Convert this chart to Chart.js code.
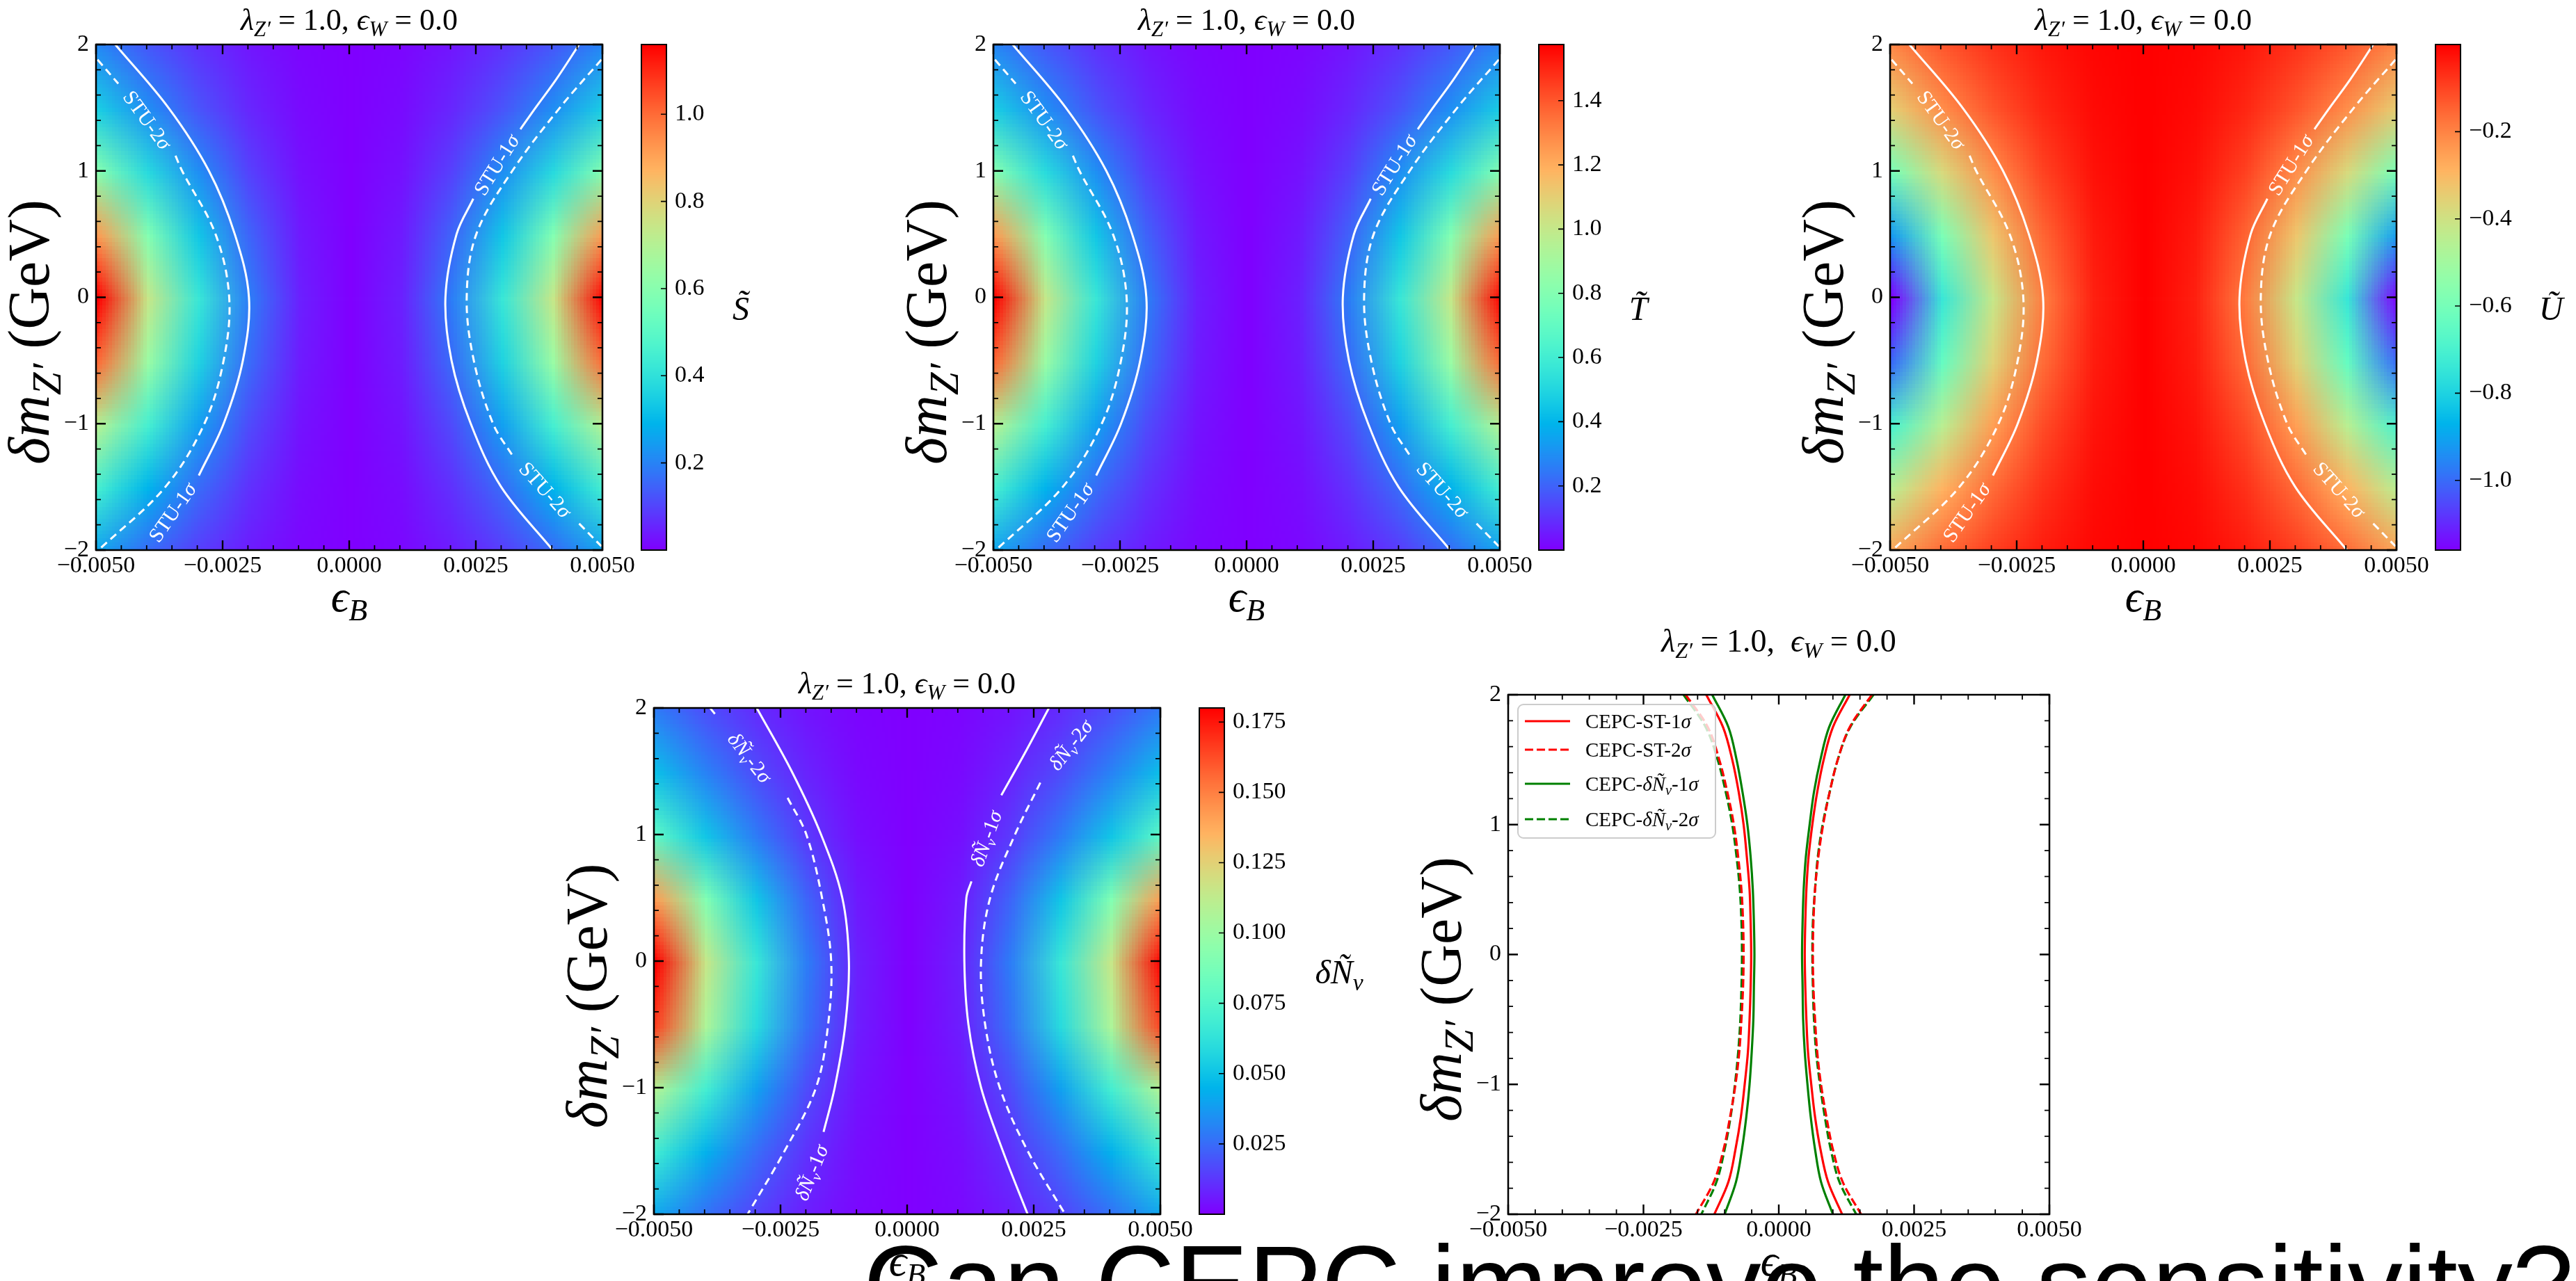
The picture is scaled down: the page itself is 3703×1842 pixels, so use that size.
<!DOCTYPE html>
<html><head><meta charset="utf-8">
<script src="https://cdn.jsdelivr.net/npm/chart.js@4/dist/chart.umd.min.js"></script>
<style>
html,body{margin:0;padding:0;background:#fff;width:3703px;height:1842px;overflow:hidden;position:relative}
canvas{position:absolute}
#caption{position:absolute;left:1241px;top:1767px;font:158px/158px "Liberation Sans",Arial,sans-serif;color:#000;white-space:nowrap;z-index:10}
</style></head><body>
<div id="caption">Can CEPC improve the sensitivity?</div>
<script>
// ---------------- DATA ----------------
const epsGrid = [-0.005,-0.004,-0.003,-0.002,-0.001,0,0.001,0.002,0.003,0.004,0.005];
const dmGrid = [2,1.5,1,0.5,0,-0.5,-1,-1.5,-2];

const sTildeGrid = [
 [0.21,0.13,0.075,0.033,0.008,0,0.008,0.033,0.075,0.13,0.21],
 [0.35,0.22,0.125,0.056,0.014,0,0.014,0.056,0.125,0.22,0.35],
 [0.60,0.38,0.22,0.096,0.024,0,0.024,0.096,0.22,0.38,0.60],
 [0.92,0.59,0.33,0.15,0.037,0,0.037,0.15,0.33,0.59,0.92],
 [1.16,0.74,0.42,0.19,0.046,0,0.046,0.19,0.42,0.74,1.16],
 [1.00,0.64,0.36,0.16,0.040,0,0.040,0.16,0.36,0.64,1.00],
 [0.70,0.45,0.25,0.11,0.028,0,0.028,0.11,0.25,0.45,0.70],
 [0.45,0.29,0.16,0.072,0.018,0,0.018,0.072,0.16,0.29,0.45],
 [0.26,0.16,0.09,0.041,0.010,0,0.010,0.041,0.09,0.16,0.26]];
const tTildeGrid = [
 [0.28,0.18,0.10,0.045,0.011,0,0.011,0.045,0.10,0.18,0.28],
 [0.47,0.30,0.17,0.076,0.019,0,0.019,0.076,0.17,0.30,0.47],
 [0.81,0.52,0.30,0.13,0.033,0,0.033,0.13,0.30,0.52,0.81],
 [1.25,0.80,0.45,0.20,0.050,0,0.050,0.20,0.45,0.80,1.25],
 [1.57,1.00,0.57,0.26,0.062,0,0.062,0.26,0.57,1.00,1.57],
 [1.36,0.87,0.49,0.22,0.054,0,0.054,0.22,0.49,0.87,1.36],
 [0.95,0.61,0.34,0.15,0.038,0,0.038,0.15,0.34,0.61,0.95],
 [0.61,0.39,0.22,0.098,0.024,0,0.024,0.098,0.22,0.39,0.61],
 [0.35,0.22,0.12,0.056,0.014,0,0.014,0.056,0.12,0.22,0.35]];
const uTildeGrid = [
 [-0.21,-0.13,-0.075,-0.033,-0.008,0,-0.008,-0.033,-0.075,-0.13,-0.21],
 [-0.35,-0.22,-0.125,-0.056,-0.014,0,-0.014,-0.056,-0.125,-0.22,-0.35],
 [-0.60,-0.38,-0.22,-0.096,-0.024,0,-0.024,-0.096,-0.22,-0.38,-0.60],
 [-0.92,-0.59,-0.33,-0.15,-0.037,0,-0.037,-0.15,-0.33,-0.59,-0.92],
 [-1.16,-0.74,-0.42,-0.19,-0.046,0,-0.046,-0.19,-0.42,-0.74,-1.16],
 [-1.00,-0.64,-0.36,-0.16,-0.040,0,-0.040,-0.16,-0.36,-0.64,-1.00],
 [-0.70,-0.45,-0.25,-0.11,-0.028,0,-0.028,-0.11,-0.25,-0.45,-0.70],
 [-0.45,-0.29,-0.16,-0.072,-0.018,0,-0.018,-0.072,-0.16,-0.29,-0.45],
 [-0.26,-0.16,-0.09,-0.041,-0.010,0,-0.010,-0.041,-0.09,-0.16,-0.26]];
const dNuGrid = [
 [0.029,0.018,0.010,0.0046,0.0012,0,0.0012,0.0046,0.010,0.018,0.029],
 [0.049,0.031,0.017,0.0078,0.0019,0,0.0019,0.0078,0.017,0.031,0.049],
 [0.079,0.051,0.029,0.013,0.0032,0,0.0032,0.013,0.029,0.051,0.079],
 [0.142,0.091,0.051,0.023,0.0057,0,0.0057,0.023,0.051,0.091,0.142],
 [0.18,0.115,0.065,0.029,0.0072,0,0.0072,0.029,0.065,0.115,0.18],
 [0.165,0.106,0.059,0.026,0.0066,0,0.0066,0.026,0.059,0.106,0.165],
 [0.108,0.069,0.039,0.017,0.0043,0,0.0043,0.017,0.039,0.069,0.108],
 [0.068,0.044,0.025,0.011,0.0027,0,0.0027,0.011,0.025,0.044,0.068],
 [0.041,0.026,0.015,0.0066,0.0017,0,0.0017,0.0066,0.015,0.026,0.041]];

const sRange = [0, 1.16], tRange = [0, 1.575], uRange = [-1.16, 0], nuRange = [0, 0.18];
const sTicks = [0.2,0.4,0.6,0.8,1.0];
const tTicks = [0.2,0.4,0.6,0.8,1.0,1.2,1.4];
const uTicks = [-1.0,-0.8,-0.6,-0.4,-0.2];
const nuTicks = [0.025,0.05,0.075,0.1,0.125,0.15,0.175];

const xMajorTicks = [-0.005,-0.0025,0,0.0025,0.005];
const xMinorTicks = [-0.0045,-0.004,-0.0035,-0.003,-0.002,-0.0015,-0.001,-0.0005,0.0005,0.001,0.0015,0.002,0.003,0.0035,0.004,0.0045];
const yMajorTicks = [-2,-1,0,1,2];
const yMinorTicks = [-1.8,-1.6,-1.4,-1.2,-0.8,-0.6,-0.4,-0.2,0.2,0.4,0.6,0.8,1.2,1.4,1.6,1.8];

// STU contours (left branch, gap, right branch); null = break for inline labels
const stu1Dm  = [2,1.5,1,0.5,0,-0.5,-1,-1.41,null,2,1.72,1.5,1.33,null,0.78,0.5,0,-0.5,-1,-1.5,-2];
const stu1Eps = [-0.00462,-0.00357,-0.00277,-0.00226,-0.00198,-0.0021,-0.00248,-0.00297,null,0.00454,0.00408,0.00368,0.00338,null,0.00245,0.00212,0.0019,0.00202,0.0024,0.003,0.00402];
const stu2Dm  = [1.88,1.69,null,1.12,1,0.5,0,-0.5,-1,-1.5,-2,null,1.88,1.5,1,0.5,0,-0.5,-1,-1.25,null,-1.79,-1.97];
const stu2Eps = [-0.00497,-0.00456,null,-0.00343,-0.0033,-0.00264,-0.00237,-0.00248,-0.00286,-0.00363,-0.00495,null,0.00498,0.00416,0.00322,0.00251,0.00232,0.00246,0.00284,0.00322,null,0.00454,0.00498];
// dN_nu contours
const nu1Dm  = [2,1.5,1,0.5,0,-0.5,-1,-1.35,null,2,1.64,1.31,null,0.63,0.5,0,-0.5,-1,-1.5,-2];
const nu1Eps = [-0.00297,-0.00228,-0.0017,-0.00128,-0.00115,-0.00122,-0.00143,-0.00165,null,0.0028,0.00232,0.00186,null,0.00127,0.00117,0.00113,0.00121,0.00146,0.00189,0.00238];
const nu2Dm  = [2,1.93,null,1.29,1,0.5,0,-0.5,-1,-1.5,-2,null,1.41,1,0.5,0,-0.5,-1,-1.5,-2];
const nu2Eps = [-0.00389,-0.00375,null,-0.00236,-0.00199,-0.00168,-0.0015,-0.00156,-0.0018,-0.00242,-0.00315,null,0.00263,0.00213,0.00164,0.00146,0.00154,0.00183,0.00238,0.00312];

// CEPC comparison curves (panel 5), sampled every 0.25 GeV from +2 to -2
const cepcDm = [2,1.75,1.5,1.25,1,0.75,0.5,0.25,0,-0.25,-0.5,-0.75,-1,-1.25,-1.5,-1.75,-2];
const st1Left  = [-0.00134,-0.00103,-0.00086,-0.00074,-0.00065,-0.00059,-0.00054,-0.00052,-0.00051,-0.00052,-0.00054,-0.00057,-0.00063,-0.00070,-0.00080,-0.00093,-0.00119];
const st1Right = [0.00131,0.00100,0.00083,0.00071,0.00062,0.00055,0.00051,0.00049,0.00048,0.00049,0.00051,0.00054,0.00060,0.00067,0.00077,0.00091,0.00117];
const st2Left  = [-0.00172,-0.00131,-0.00110,-0.00095,-0.00083,-0.00075,-0.00069,-0.00066,-0.00065,-0.00066,-0.00069,-0.00073,-0.00080,-0.00090,-0.00102,-0.00120,-0.00153];
const st2Right = [0.00172,0.00131,0.00109,0.00094,0.00082,0.00073,0.00067,0.00064,0.00063,0.00064,0.00067,0.00071,0.00078,0.00088,0.00100,0.00118,0.00152];
const nu1Left  = [-0.00123,-0.00093,-0.00078,-0.00067,-0.00058,-0.00052,-0.00048,-0.00046,-0.00045,-0.00046,-0.00047,-0.00050,-0.00054,-0.00060,-0.00068,-0.00079,-0.00100];
const nu1Right = [0.00123,0.00093,0.00077,0.00065,0.00057,0.00050,0.00046,0.00044,0.00043,0.00044,0.00045,0.00048,0.00053,0.00059,0.00067,0.00078,0.00100];
const nu2Left  = [-0.00176,-0.00135,-0.00113,-0.00098,-0.00086,-0.00078,-0.00072,-0.00069,-0.00068,-0.00069,-0.00071,-0.00075,-0.00081,-0.00089,-0.00100,-0.00115,-0.00143];
const nu2Right = [0.00175,0.00132,0.00109,0.00094,0.00081,0.00072,0.00067,0.00063,0.00062,0.00063,0.00065,0.00069,0.00076,0.00085,0.00096,0.00112,0.00143];

// ---------------- HELPERS ----------------
const SERIF = '"Liberation Serif","DejaVu Serif",serif';
Chart.defaults.font.family = SERIF;
Chart.defaults.color = '#000';
const TICK_FONT = 34, YAXIS_FONT = 84, XAXIS_FONT = 63, CB_FONT = 48, CLABEL_FONT = 30;

function segFont(f, size){ return (f.includes('i')?'italic ':'') + (f.includes('s')?size*0.7:size) + 'px ' + SERIF; }
function richWidth(ctx, segs, size){ let w=0; for(const [t,f] of segs){ ctx.font=segFont(f,size); w+=ctx.measureText(t).width; } return w; }
function drawRich(ctx, segs, x, y, size, align){
  const w = richWidth(ctx, segs, size);
  let cx = align==='center' ? x-w/2 : (align==='right' ? x-w : x);
  ctx.textAlign='left'; ctx.textBaseline='alphabetic';
  for(const [t,f] of segs){ ctx.font=segFont(f,size); ctx.fillText(t, cx, y + (f.includes('s')? size*0.2 : 0)); cx += ctx.measureText(t).width; }
}
function rainbow(t){
  t = Math.min(1, Math.max(0, t));
  return [Math.min(1,Math.abs(2*t-0.5))*255, Math.sin(Math.PI*t)*255, Math.cos(Math.PI*t/2)*255];
}
const fmtSigned = (v,d) => (v < -1e-12 ? '\u2212' : '') + Math.abs(v).toFixed(d);
function pts(xs, ys){ return xs.map((e,i)=> (e===null||ys[i]===null) ? {x:null,y:null} : {x:e, y:ys[i]}); }
function joinLR(left, right){ return pts(left.concat([null], right), cepcDm.concat([null], cepcDm)); }
function makeCanvas(x,y,w,h){ const c=document.createElement('canvas'); c.width=w; c.height=h; c.style.left=x+'px'; c.style.top=y+'px'; c.style.width=w+'px'; c.style.height=h+'px'; document.body.appendChild(c); return c; }

const titleSegs = [['λ','i'],['Z′','is'],[' = 1.0, ',''],['ϵ','i'],['W','is'],[' = 0.0','']];
const title5Segs = [['λ','i'],['Z′','is'],[' = 1.0,  ',''],['ϵ','i'],['W','is'],[' = 0.0','']];
const xTitleSegs = [['ϵ','i'],['B','is']];
const yTitleSegs = [['δm','i'],['Z′','is'],[' (GeV)','']];

function drawFrame(chart){
  const {ctx, chartArea:a, scales:{x,y}} = chart;
  ctx.save(); ctx.strokeStyle='#000'; ctx.setLineDash([]);
  const tk = (xv, yv, len, lw) => {
    ctx.lineWidth = lw; ctx.beginPath();
    for(const v of xv){ const p=x.getPixelForValue(v); ctx.moveTo(p,a.bottom); ctx.lineTo(p,a.bottom-len); ctx.moveTo(p,a.top); ctx.lineTo(p,a.top+len); }
    for(const v of yv){ const p=y.getPixelForValue(v); ctx.moveTo(a.left,p); ctx.lineTo(a.left+len,p); ctx.moveTo(a.right,p); ctx.lineTo(a.right-len,p); }
    ctx.stroke();
  };
  tk(xMajorTicks, yMajorTicks, 14, 2.4);
  tk(xMinorTicks, yMinorTicks, 7, 1.8);
  ctx.lineWidth = 2.5; ctx.strokeRect(a.left, a.top, a.right-a.left, a.bottom-a.top);
  ctx.restore();
}

function decoPlugin(p){
  return {
    id:'deco',
    beforeDatasetsDraw(chart){
      if(!p.grid) return;
      const {ctx, chartArea:a, scales:{x,y}} = chart;
      const nx=epsGrid.length, ny=dmGrid.length;
      const off=document.createElement('canvas'); off.width=nx; off.height=ny;
      const oc=off.getContext('2d'); const img=oc.createImageData(nx,ny);
      for(let j=0;j<ny;j++) for(let i=0;i<nx;i++){
        const c=rainbow((p.grid[j][i]-p.range[0])/(p.range[1]-p.range[0])); const k=(j*nx+i)*4;
        img.data[k]=c[0]; img.data[k+1]=c[1]; img.data[k+2]=c[2]; img.data[k+3]=255;
      }
      oc.putImageData(img,0,0);
      const hx=(epsGrid[1]-epsGrid[0])/2, hy=(dmGrid[0]-dmGrid[1])/2;
      const x0=x.getPixelForValue(epsGrid[0]-hx), x1=x.getPixelForValue(epsGrid[nx-1]+hx);
      const y0=y.getPixelForValue(dmGrid[0]+hy), y1=y.getPixelForValue(dmGrid[ny-1]-hy);
      ctx.save(); ctx.beginPath(); ctx.rect(a.left,a.top,a.right-a.left,a.bottom-a.top); ctx.clip();
      ctx.imageSmoothingEnabled=true; ctx.drawImage(off, x0, y0, x1-x0, y1-y0); ctx.restore();
    },
    afterDatasetsDraw(chart){
      const {ctx, chartArea:a, scales:{x,y}} = chart;
      if(p.labels){
        ctx.save(); ctx.fillStyle='#fff';
        for(const L of p.labels){
          ctx.save(); ctx.translate(x.getPixelForValue(L.x), y.getPixelForValue(L.y)); ctx.rotate(L.a*Math.PI/180);
          drawRich(ctx, L.segs, 0, CLABEL_FONT*0.35, CLABEL_FONT, 'center'); ctx.restore();
        }
        ctx.restore();
      }
      if(p.legend){
        ctx.save();
        const bx=a.left+14, by=a.top+14, bw=284, bh=192;
        ctx.beginPath(); ctx.roundRect(bx,by,bw,bh,8); ctx.fillStyle='rgba(255,255,255,0.8)'; ctx.fill();
        ctx.strokeStyle='#cccccc'; ctx.lineWidth=2; ctx.stroke();
        const rows=[38,79,128,179];
        chart.data.datasets.forEach((d,i)=>{
          const yy=a.top+rows[i];
          ctx.strokeStyle=d.borderColor; ctx.lineWidth=3.2; ctx.setLineDash(d.borderDash||[]);
          ctx.beginPath(); ctx.moveTo(a.left+24,yy); ctx.lineTo(a.left+89,yy); ctx.stroke(); ctx.setLineDash([]);
          ctx.fillStyle='#000'; drawRich(ctx, p.legend[i], a.left+111, yy+10, 29, 'left');
        });
        ctx.restore();
      }
      drawFrame(chart);
    },
    afterDraw(chart){
      const {ctx, chartArea:a} = chart;
      ctx.save(); ctx.fillStyle='#000';
      drawRich(ctx, p.title, (a.left+a.right)/2, a.top-p.titleOff, p.titleSize, 'center');
      drawRich(ctx, xTitleSegs, (a.left+a.right)/2, a.bottom+88, XAXIS_FONT, 'center');
      ctx.translate(a.left-93+YAXIS_FONT*0.3, (a.top+a.bottom)/2+50); ctx.rotate(-Math.PI/2);
      drawRich(ctx, yTitleSegs, 0, 0, YAXIS_FONT, 'center');
      ctx.restore();
    }
  };
}

function buildMain(p){
  const [l,t,r,b] = p.area;
  const ML=170, MT=100, MR=70, MB=130, YW=100, XH=60;
  const c = makeCanvas(l-ML, t-MT, (r-l)+ML+MR, (b-t)+MT+MB);
  return new Chart(c, {
    type:'scatter',
    data:{datasets:p.datasets},
    options:{
      responsive:false, animation:false, events:[],
      layout:{padding:{left:ML-YW, top:MT, right:MR, bottom:MB-XH}},
      plugins:{legend:{display:false}, tooltip:{enabled:false}},
      scales:{
        x:{type:'linear', min:-0.005, max:0.005, grid:{display:false, drawTicks:false}, border:{display:false},
           ticks:{font:{size:TICK_FONT, family:SERIF}, color:'#000', padding:3, autoSkip:false, maxRotation:0, minRotation:0, callback:v=>fmtSigned(v,4)},
           afterBuildTicks:s=>{ s.ticks = xMajorTicks.map(v=>({value:v})); },
           afterFit:s=>{ s.height=XH; s.paddingLeft=0; s.paddingRight=0; }},
        y:{type:'linear', min:-2, max:2, grid:{display:false, drawTicks:false}, border:{display:false},
           ticks:{font:{size:TICK_FONT, family:SERIF}, color:'#000', padding:10, autoSkip:false, callback:v=>fmtSigned(v,0)},
           afterBuildTicks:s=>{ s.ticks = yMajorTicks.map(v=>({value:v})); },
           afterFit:s=>{ s.width=YW; s.paddingTop=0; s.paddingBottom=0; }}
      }
    },
    plugins:[decoPlugin(p)]
  });
}

function buildColorbar(cb){
  const [cl,cr] = cb.x, t=cb.t, b=cb.b;
  const CBR=260, CBW=230;
  const c = makeCanvas(cl-10, t-30, (cr-cl)+10+CBR, (b-t)+60);
  return new Chart(c, {
    type:'scatter', data:{datasets:[]},
    options:{
      responsive:false, animation:false, events:[],
      layout:{padding:{left:10, top:30, right:CBR-CBW, bottom:30}},
      plugins:{legend:{display:false}, tooltip:{enabled:false}},
      scales:{
        x:{display:false, min:0, max:1},
        y:{type:'linear', position:'right', min:cb.range[0], max:cb.range[1], grid:{display:false, drawTicks:false}, border:{display:false},
           ticks:{font:{size:TICK_FONT, family:SERIF}, color:'#000', padding:12, autoSkip:false, callback:v=>fmtSigned(v,cb.digits)},
           afterBuildTicks:s=>{ s.ticks = cb.ticks.map(v=>({value:v})); },
           afterFit:s=>{ s.width=CBW; s.paddingTop=0; s.paddingBottom=0; }}
      }
    },
    plugins:[{
      id:'cbar',
      beforeDatasetsDraw(chart){
        const {ctx, chartArea:a, scales:{y}} = chart;
        for(let py=Math.floor(a.top); py<a.bottom; py++){
          const v=y.getValueForPixel(py+0.5); const col=rainbow((v-cb.range[0])/(cb.range[1]-cb.range[0]));
          ctx.fillStyle=`rgb(${col[0]|0},${col[1]|0},${col[2]|0})`; ctx.fillRect(a.left, py, a.right-a.left, 1);
        }
      },
      afterDraw(chart){
        const {ctx, chartArea:a, scales:{y}} = chart;
        ctx.save(); ctx.strokeStyle='#000'; ctx.lineWidth=1.6; ctx.beginPath();
        for(const v of cb.ticks){ const p=y.getPixelForValue(v); ctx.moveTo(a.right,p); ctx.lineTo(a.right-8,p); }
        ctx.stroke(); ctx.lineWidth=2; ctx.strokeRect(a.left,a.top,a.right-a.left,a.bottom-a.top);
        ctx.fillStyle='#000'; drawRich(ctx, cb.label, a.right+cb.dx, (a.top+a.bottom)/2+32, CB_FONT, 'center');
        ctx.restore();
      }
    }]
  });
}

// ---------------- BUILD ----------------
const white = '#ffffff';
const stuSets = () => [
  {label:'STU-1σ', data:pts(stu1Eps, stu1Dm), showLine:true, borderColor:white, borderWidth:3, pointRadius:0, tension:0.35, spanGaps:false},
  {label:'STU-2σ', data:pts(stu2Eps, stu2Dm), showLine:true, borderColor:white, borderWidth:3, borderDash:[11,7], pointRadius:0, tension:0.35, spanGaps:false}
];
const stuLabels = [
  {segs:[['STU-2',''],['σ','i']], x:-0.00398, y:1.405, a:54},
  {segs:[['STU-1',''],['σ','i']], x:-0.0035, y:-1.70, a:-55},
  {segs:[['STU-1',''],['σ','i']], x:0.0029, y:1.05, a:-58},
  {segs:[['STU-2',''],['σ','i']], x:0.00388, y:-1.52, a:48}
];
const nuSegs = n => [['δÑ','i'],['ν','is'],['-'+n,''],['σ','i']];
const nuLabels = [
  {segs:nuSegs(2), x:-0.0031, y:1.61, a:52},
  {segs:nuSegs(1), x:-0.0019, y:-1.67, a:-68},
  {segs:nuSegs(1), x:0.00155, y:0.97, a:-70},
  {segs:nuSegs(2), x:0.00322, y:1.71, a:-52}
];

const heatPanels = [
  {area:[138,64,866,791], grid:sTildeGrid, range:sRange, datasets:stuSets(), labels:stuLabels,
   cb:{x:[922,958], ticks:sTicks, range:sRange, digits:1, label:[['S̃','i']], dx:107}},
  {area:[1428,64,2156,791], grid:tTildeGrid, range:tRange, datasets:stuSets(), labels:stuLabels,
   cb:{x:[2212,2248], ticks:tTicks, range:tRange, digits:1, label:[['T̃','i']], dx:107}},
  {area:[2717,64,3445,791], grid:uTildeGrid, range:uRange, datasets:stuSets(), labels:stuLabels,
   cb:{x:[3501,3537], ticks:uTicks, range:uRange, digits:1, label:[['Ũ','i']], dx:130}},
  {area:[940,1018,1668,1746], grid:dNuGrid, range:nuRange,
   datasets:[
     {label:'δÑν-1σ', data:pts(nu1Eps, nu1Dm), showLine:true, borderColor:white, borderWidth:3, pointRadius:0, tension:0.35, spanGaps:false},
     {label:'δÑν-2σ', data:pts(nu2Eps, nu2Dm), showLine:true, borderColor:white, borderWidth:3, borderDash:[11,7], pointRadius:0, tension:0.35, spanGaps:false}],
   labels:nuLabels,
   cb:{x:[1724,1760], ticks:nuTicks, range:nuRange, digits:3, label:[['δÑ','i'],['ν','is']], dx:165}}
];
for(const p of heatPanels){
  p.title = titleSegs; p.titleOff = 21; p.titleSize = 44;
  buildMain(p);
  buildColorbar(Object.assign({t:p.area[1], b:p.area[3]}, p.cb));
}

buildMain({
  area:[2168,999,2946,1746], title:title5Segs, titleOff:62, titleSize:46,
  datasets:[
    {label:'CEPC-ST-1σ', data:joinLR(st1Left, st1Right), showLine:true, borderColor:'#ff0000', borderWidth:3.2, pointRadius:0, tension:0.35, spanGaps:false},
    {label:'CEPC-ST-2σ', data:joinLR(st2Left, st2Right), showLine:true, borderColor:'#ff0000', borderWidth:3.2, borderDash:[12,5], pointRadius:0, tension:0.35, spanGaps:false},
    {label:'CEPC-δÑν-1σ', data:joinLR(nu1Left, nu1Right), showLine:true, borderColor:'#008000', borderWidth:3.2, pointRadius:0, tension:0.35, spanGaps:false},
    {label:'CEPC-δÑν-2σ', data:joinLR(nu2Left, nu2Right), showLine:true, borderColor:'#008000', borderWidth:3.2, borderDash:[12,5], pointRadius:0, tension:0.35, spanGaps:false}
  ],
  legend:[
    [['CEPC-ST-1',''],['σ','i']],
    [['CEPC-ST-2',''],['σ','i']],
    [['CEPC-',''],['δÑ','i'],['ν','is'],['-1',''],['σ','i']],
    [['CEPC-',''],['δÑ','i'],['ν','is'],['-2',''],['σ','i']]
  ]
});
</script>
</body></html>
